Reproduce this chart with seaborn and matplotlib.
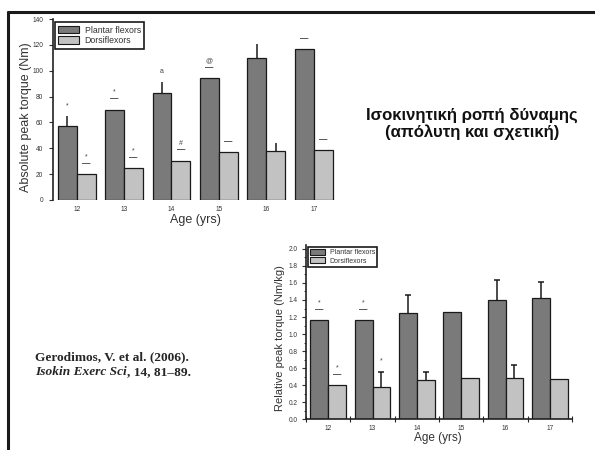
import matplotlib

matplotlib.use("Agg")
import matplotlib.pyplot as plt
import pandas as pd
import seaborn as sns
from matplotlib.lines import Line2D
from matplotlib.patches import Patch
from matplotlib.ticker import MultipleLocator, FormatStrFormatter

AGES = ["12", "13", "14", "15", "16", "17"]
GROUPS = ["Plantar flexors", "Dorsiflexors"]

# absolute peak torque (Nm)
ABS_PLANTAR = [57, 70, 83, 94, 110, 117]
ABS_DORSI = [20, 24.5, 30.5, 37, 38, 39]
ABS_PLANTAR_ERR = [8, 0, 8.5, 0, 11, 0]
ABS_DORSI_ERR = [0, 0, 0, 0, 6, 0]

# relative peak torque (Nm/kg)
REL_PLANTAR = [1.16, 1.16, 1.25, 1.26, 1.40, 1.42]
REL_DORSI = [0.40, 0.38, 0.46, 0.49, 0.48, 0.47]
REL_PLANTAR_ERR = [0, 0, 0.21, 0, 0.23, 0.19]
REL_DORSI_ERR = [0, 0.18, 0.09, 0, 0.16, 0]

# significance marks: symbol above the bar and whether an underline dash is shown
ABS_PLANTAR_SIG = ["*", "*", "a", "@", "", ""]
ABS_PLANTAR_DASH = [False, True, False, True, False, True]
ABS_DORSI_SIG = ["*", "*", "#", "", "", ""]
ABS_DORSI_DASH = [True, True, True, True, False, True]
REL_PLANTAR_SIG = ["*", "*", "", "", "", ""]
REL_PLANTAR_DASH = [True, True, False, False, False, False]
REL_DORSI_SIG = ["*", "*", "", "", "", ""]
REL_DORSI_DASH = [True, False, False, False, False, False]

TITLE = "Ισοκινητική ροπή δύναμης\n(απόλυτη και σχετική)"
CITE_1 = "Gerodimos, V. et al. (2006)."
CITE_2A = "Isokin Exerc Sci"
CITE_2B = ", 14, 81–89."

DARK = "#7a7a7a"
LIGHT = "#c2c2c2"
W, H = 595, 450


def draw_panel(ax, plantar, dorsi, errs, sigs, dashes, cap, legend_kw):
    df = pd.DataFrame(
        {
            "age": AGES * 2,
            "group": [GROUPS[0]] * len(AGES) + [GROUPS[1]] * len(AGES),
            "value": plantar + dorsi,
        }
    )
    sns.barplot(
        data=df,
        x="age",
        y="value",
        hue="group",
        palette=[DARK, LIGHT],
        saturation=1,
        width=0.8,
        edgecolor="#1a1a1a",
        linewidth=0.9,
        errorbar=None,
        legend=False,
        ax=ax,
    )
    for cont, err, sig, dash in zip(ax.containers, errs, sigs, dashes):
        for bar, e, s, d in zip(cont, err, sig, dash):
            x = bar.get_x() + bar.get_width() / 2
            top = bar.get_height()
            if e:
                # upper half error bar only
                ax.vlines(x, top, top + e, color="k", lw=1.1)
                if cap:
                    ax.plot([x], [top + e], marker="_", ms=cap, mew=1.1, color="k")
            off = 5
            if d:
                ax.annotate("—", (x, top + e), xytext=(0, off), textcoords="offset points",
                            ha="center", va="bottom", fontsize=6, fontweight="bold")
                off += 5
            if s:
                ax.annotate(s, (x, top + e), xytext=(0, off), textcoords="offset points",
                            ha="center", va="bottom", fontsize=5, color="#444")

    handles = [
        Patch(facecolor=DARK, edgecolor="k", linewidth=0.8, label=GROUPS[0]),
        Patch(facecolor=LIGHT, edgecolor="k", linewidth=0.8, label=GROUPS[1]),
    ]
    leg = ax.legend(
        handles=handles, loc="upper left", frameon=True, fancybox=False,
        edgecolor="k", framealpha=1, borderaxespad=0, **legend_kw,
    )
    leg.get_frame().set_linewidth(1.2)
    for t in leg.get_texts():
        t.set_color("#333")

    ax.set_xlabel("Age (yrs)", fontsize=9, color="#333")
    ax.tick_params(axis="both", labelsize=4.7, labelcolor="#333", colors="#333")
    sns.despine(ax=ax)


def main() -> None:
    sns.set_theme(style="white")
    plt.rcParams["font.family"] = ["Liberation Sans", "DejaVu Sans"]

    fig = plt.figure(figsize=(W / 100, H / 100), dpi=100)

    # top panel: absolute torque
    ax1 = fig.add_axes([53 / W, 1 - 200 / H, 282 / W, 181 / H])
    draw_panel(
        ax1, ABS_PLANTAR, ABS_DORSI,
        [ABS_PLANTAR_ERR, ABS_DORSI_ERR],
        [ABS_PLANTAR_SIG, ABS_DORSI_SIG],
        [ABS_PLANTAR_DASH, ABS_DORSI_DASH],
        cap=0,
        legend_kw=dict(bbox_to_anchor=(0.007, 0.983), fontsize=6.3, handlelength=2.4,
                       handleheight=1.0, borderpad=0.4, labelspacing=0.2,
                       handletextpad=0.6),
    )
    ax1.set_xlim(-0.5, 5.45)
    ax1.set_ylim(0, 140)
    ax1.yaxis.set_major_locator(MultipleLocator(20))
    ax1.spines["bottom"].set_visible(False)
    ax1.spines["left"].set_linewidth(1.2)
    ax1.spines["left"].set_color("#222")
    ax1.tick_params(axis="y", left=True, length=3, width=0.8, pad=4)
    ax1.tick_params(axis="x", bottom=False, length=0, pad=4.5)
    ax1.set_ylabel("Absolute peak torque (Nm)", fontsize=9, color="#333")
    ax1.yaxis.set_label_coords(-0.074, 0.46)
    ax1.xaxis.set_label_coords(0.504, -0.077)

    # bottom panel: relative torque
    ax2 = fig.add_axes([306 / W, 1 - 419.3 / H, 266 / W, 174.7 / H])
    draw_panel(
        ax2, REL_PLANTAR, REL_DORSI,
        [REL_PLANTAR_ERR, REL_DORSI_ERR],
        [REL_PLANTAR_SIG, REL_DORSI_SIG],
        [REL_PLANTAR_DASH, REL_DORSI_DASH],
        cap=5,
        legend_kw=dict(bbox_to_anchor=(0.008, 0.987), fontsize=5, handlelength=2.2,
                       handleheight=0.9, borderpad=0.3, labelspacing=0.15,
                       handletextpad=0.6),
    )
    ax2.set_xlim(-0.5, 5.5)
    ax2.set_ylim(0, 2.05)
    ax2.yaxis.set_major_locator(MultipleLocator(0.2))
    ax2.yaxis.set_minor_locator(MultipleLocator(0.1))
    ax2.yaxis.set_major_formatter(FormatStrFormatter("%.1f"))
    ax2.set_xticks([i + 0.5 for i in range(-1, len(AGES))], minor=True)
    for side in ("left", "bottom"):
        ax2.spines[side].set_linewidth(1.2)
        ax2.spines[side].set_color("#222")
    ax2.tick_params(axis="y", which="major", left=True, length=3, width=0.8, pad=3)
    ax2.tick_params(axis="y", which="minor", left=True, length=1.5, width=0.6)
    ax2.tick_params(axis="x", which="major", bottom=False, length=0, pad=4)
    ax2.tick_params(axis="x", which="minor", bottom=True, direction="inout", length=4, width=0.8)
    ax2.set_ylabel("Relative peak torque (Nm/kg)", fontsize=8, color="#333")
    ax2.set_xlabel("Age (yrs)", fontsize=8.5, color="#333")
    ax2.yaxis.set_label_coords(-0.079, 0.465)
    ax2.xaxis.set_label_coords(0.496, -0.074)

    # slide frame
    fig.add_artist(Line2D([8 / W, 1], [1 - 12 / H] * 2, transform=fig.transFigure,
                          color="k", lw=2.2))
    fig.add_artist(Line2D([8 / W] * 2, [1 - 12 / H, 0], transform=fig.transFigure,
                          color="k", lw=2.2))

    fig.text(472 / W, 1 - 123.5 / H, TITLE, ha="center", va="center", fontsize=12.1,
             fontweight="bold", linespacing=1.1, color="#111")

    serif = ["Liberation Serif", "DejaVu Serif"]
    fig.text(35 / W, 1 - 357 / H, CITE_1, ha="left", va="center", fontsize=9.6,
             fontweight="bold", family=serif)
    t2 = fig.text(35 / W, 1 - 372 / H, CITE_2A, ha="left", va="center", fontsize=9.6,
                  fontweight="bold", style="italic", family=serif)
    renderer = fig.canvas.get_renderer()
    bb = t2.get_window_extent(renderer)
    fig.text(bb.x1 / W, 1 - 372 / H, CITE_2B, ha="left", va="center", fontsize=9.6,
             fontweight="bold", family=serif)

    fig.savefig("out.png", dpi=100)
    plt.close(fig)


if __name__ == "__main__":
    main()
